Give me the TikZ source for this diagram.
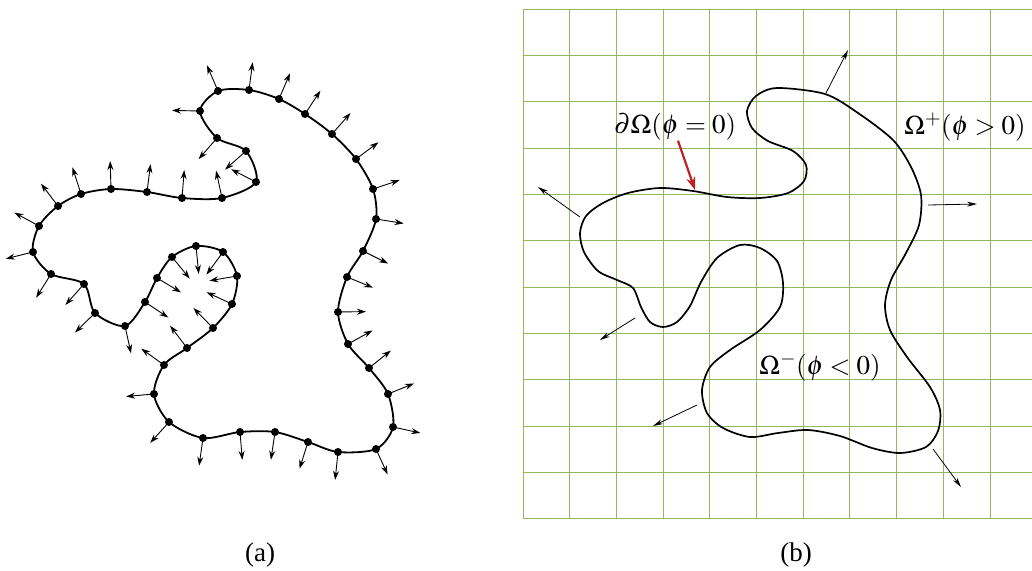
\documentclass[tikz,border=0pt]{standalone}
\usepackage{mathptmx}
\usepackage[no-math]{fontspec}
\setmainfont{Liberation Serif}
\usetikzlibrary{calc,arrows.meta}
\definecolor{gridgreen}{RGB}{146,186,92}
\definecolor{pointred}{RGB}{190,35,35}
\tikzset{
  >={Stealth[length=9pt,width=6pt]},
  front/.style={line width=1.8pt,line join=round},
  marker/.style={circle,fill,inner sep=0pt,minimum size=8pt},
  outnormal/.style={->,line width=0.9pt},
  thinnormal/.style={-{Stealth[length=10pt,width=5pt]},line width=0.8pt},
  gridline/.style={gridgreen,line width=1pt},
  redpointer/.style={-{Stealth[length=13pt,width=9pt]},pointred,line width=2.2pt},
  tag/.style={font=\fontsize{27}{31}\selectfont,inner sep=0pt},
}
% points on the front of (a)
\def\leftpts{218/91, 249/90, 279/99, 305/114, 332/134, 356/159, 373/189,
  376/219, 363/251, 347/277, 338/312, 348/344, 369/368, 388/394, 393/427,
  376/449, 338/452, 308/442, 275/432, 240/432, 203/438, 169/422, 154/394,
  164/365, 187/348, 213/328, 232/304, 237/276, 223/252, 196/246, 172/257,
  157/278, 145/302, 125/326, 95/313, 84/284, 51/274, 33/252, 39/226,
  58/206, 81/194, 111/189, 147/192, 182/198, 222/198, 256/182, 246/151,
  217/138, 200/111}
\begin{document}
\begin{tikzpicture}[x=1pt,y=-1pt]
\useasboundingbox (0,0) rectangle (1032,570);
% ---------- (a) marker points ----------
\foreach \x/\y [count=\i] in \leftpts
  \coordinate (c\i) at (\x,\y);
\draw[front] plot[smooth cycle,samples at={1,...,49},variable=\k] (c\k);
% normals
\foreach \i in {1,...,49}{
  \pgfmathtruncatemacro\ia{mod(\i+47,49)+1}
  \pgfmathtruncatemacro\ib{mod(\i,49)+1}
  \coordinate (t\i) at ($(c\i)+(c\ib)-(c\ia)$);
  \draw[outnormal] (c\i) -- ($(c\i)!28pt!90:(t\i)$);
}
\foreach \i in {1,...,49}
  \node[marker] (m\i) at (c\i) {};
\node[tag] (capa) at (260,555) {(a)};
% ---------- (b) level set ----------
% grid
\foreach \k in {0,...,11}{
  \draw[gridline] (523+46.7*\k,9) -- (523+46.7*\k,519);
  \draw[gridline] (523,9+46.36*\k) -- (1040,9+46.36*\k);
}
% zero level
\draw[front,line width=1.7pt] plot[smooth cycle] coordinates {
  (777,88) (825,94) (858,113) (893,140) (911,167) (921,195) (919,225)
  (906,253) (891,280) (885,305) (890,330) (907,357) (930,387) (940,410)
  (938,431) (926,447) (900,453) (872,448) (840,436) (808,430) (778,433)
  (750,437) (723,428) (707,413) (702,390) (710,367) (730,350) (760,330)
  (780,307) (783,283) (777,261) (760,248) (740,245) (717,258) (701,282)
  (690,306) (677,322) (663,327) (650,322) (641,307) (633,288) (617,280)
  (598,271) (584,252) (580,233) (586,216) (603,203) (628,193) (660,188)
  (693,191) (727,197) (760,198) (788,193) (804,181) (806,165) (793,151)
  (768,141) (752,128) (747,111) (756,96)};
% normals
\foreach \a/\b/\c/\d [count=\i] in {826/93/848/50, 580/217/538/187,
    928/205/977/204, 635/318/600/340, 697/405/653/426, 933/449/961/487}{
  \coordinate (s\i) at (\a,\b);
  \coordinate (e\i) at (\c,\d);
  \draw[thinnormal] (s\i) -- (e\i);
}
% labels
\node[tag] (bnd) at (675,127) {$\partial\Omega(\phi=0)$};
\node[tag] (pos) at (965,127) {$\Omega^{+}(\phi>0)$};
\node[tag] (neg) at (820,367) {$\Omega^{-}(\phi<0)$};
\coordinate (hit) at (695,190);
\draw[redpointer] ([xshift=3pt]bnd.south) -- (hit);
\node[tag] (capb) at (796,555) {(b)};
\end{tikzpicture}
\end{document}
